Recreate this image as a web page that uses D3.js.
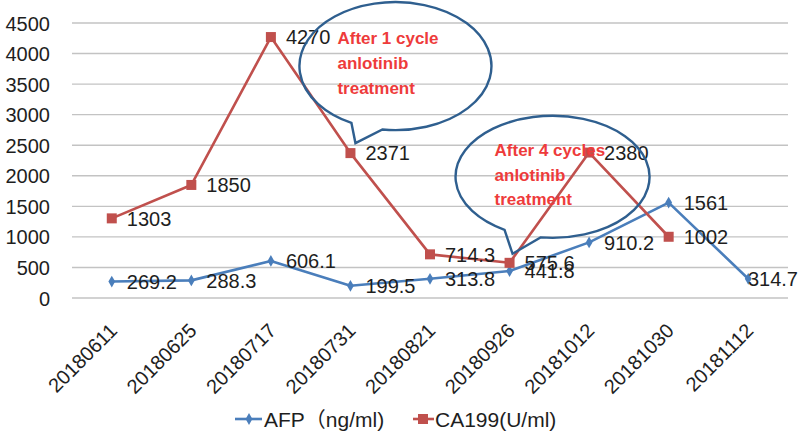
<!DOCTYPE html>
<html>
<head>
<meta charset="utf-8">
<script src="https://cdn.jsdelivr.net/npm/d3@7"></script>
<style>
  html, body { margin: 0; padding: 0; background: #fff; }
  svg { display: block; }
  text { font-family: "Liberation Sans", "Noto Sans CJK SC", sans-serif; }
</style>
</head>
<body>
<script>
const categories = ["20180611", "20180625", "20180717", "20180731", "20180821", "20180926", "20181012", "20181030", "20181112"];
const afpValues = [269.2, 288.3, 606.1, 199.5, 313.8, 441.8, 910.2, 1561, 314.7];
const ca199Values = [1303, 1850, 4270, 2371, 714.3, 575.6, 2380, 1002];
const yTickValues = [0, 500, 1000, 1500, 2000, 2500, 3000, 3500, 4000, 4500];
const seriesNames = ["AFP\uFF08ng/ml)", "CA199(U/ml)"];
const calloutTexts = [
  ["After 1 cycle", "anlotinib", "treatment"],
  ["After 4 cycles", "anlotinib", "treatment"]
];
const calloutAnchors = [3, 5]; // index of CA199 point each callout points to

const W = 800, H = 442;
const BLUE = "#4a7ebb", RED = "#c0504d", GRID = "#c3c3c3", INK = "#1e1e1e";

const svg = d3.select("body").append("svg").attr("width", W).attr("height", H);

const x = d3.scalePoint().domain(categories).range([72, 788]).padding(0.5);
const y = d3.scaleLinear().domain([0, 4500]).range([298, 23]);

// gridlines
svg.append("g").selectAll("line").data(yTickValues).join("line")
  .attr("x1", 72).attr("x2", 788)
  .attr("y1", d => y(d)).attr("y2", d => y(d))
  .attr("stroke", GRID).attr("stroke-width", 1.4);

// y axis labels
const yAxis = d3.axisLeft(y).tickValues(yTickValues).tickSize(0).tickPadding(0).tickFormat(d3.format("d"));
const yg = svg.append("g").attr("transform", "translate(50,0)").call(yAxis);
yg.select(".domain").remove();
yg.selectAll("text").attr("font-size", 20).attr("fill", INK)
  .attr("font-family", "Liberation Sans, sans-serif").attr("dy", "0.35em");

// x axis labels
const xAxis = d3.axisBottom(x).tickSize(0).tickPadding(0);
const xg = svg.append("g").attr("transform", "translate(0,298)").call(xAxis);
xg.select(".domain").remove();
xg.selectAll(".tick text")
  .attr("font-size", 20).attr("fill", INK)
  .attr("font-family", "Liberation Sans, sans-serif")
  .attr("text-anchor", "end").attr("y", 0).attr("dy", 0)
  .attr("transform", "translate(6,34) rotate(-45)");

// lines
const afpData = afpValues.map((v, i) => ({ c: categories[i], v }));
const caData = ca199Values.map((v, i) => ({ c: categories[i], v }));
const line = d3.line().x(d => x(d.c)).y(d => y(d.v));

svg.append("path").datum(afpData).attr("d", line)
  .attr("fill", "none").attr("stroke", BLUE).attr("stroke-width", 2.6).attr("stroke-linejoin", "round");
svg.append("path").datum(caData).attr("d", line)
  .attr("fill", "none").attr("stroke", RED).attr("stroke-width", 2.6).attr("stroke-linejoin", "round");

// markers
const diamond = d3.symbol().type(d3.symbolDiamond).size(40);
svg.append("g").selectAll("path").data(afpData).join("path")
  .attr("d", diamond)
  .attr("transform", d => `translate(${x(d.c)},${y(d.v)})`)
  .attr("fill", BLUE);
svg.append("g").selectAll("rect").data(caData).join("rect")
  .attr("x", d => x(d.c) - 5).attr("y", d => y(d.v) - 5)
  .attr("width", 10).attr("height", 10).attr("fill", RED);

// data labels
function addLabels(data) {
  svg.append("g").selectAll("text").data(data).join("text")
    .attr("x", d => x(d.c) + 15)
    .attr("y", d => y(d.v))
    .attr("dy", "0.36em")
    .attr("font-size", 20).attr("fill", INK)
    .attr("font-family", "Liberation Sans, sans-serif")
    .text(d => String(d.v))
    .each(function () {
      const bb = this.getBBox();
      if (bb.x + bb.width > W - 2) {
        d3.select(this).attr("x", W - 2).attr("text-anchor", "end");
      }
    });
}
addLabels(caData);
addLabels(afpData);

// callouts (speech bubbles)
const bubbleGeom = [
  { dx: 40, dy: -77, rx: 96, ry: 64, b1: -4, b2: 27, tx: -18, ty: [-99, -74, -49], tipdx: 5, tipdy: -10 },
  { dx: 40, dy: -77, rx: 97, ry: 61, b1: -8, b2: 28, tx: -18, ty: [-98, -73, -49], tipdx: 3, tipdy: -9 }
];
calloutTexts.forEach((lines, k) => {
  const g = bubbleGeom[k];
  const idx = calloutAnchors[k];
  const tipX = x(categories[idx]) + g.tipdx;
  const tipY = y(ca199Values[idx]) + g.tipdy;
  const cx = tipX + g.dx, cy = tipY + g.dy;
  const yOn = (px) => cy + g.ry * Math.sqrt(Math.max(0, 1 - Math.pow((px - cx) / g.rx, 2)));
  const b1x = tipX + g.b1, b2x = tipX + g.b2;
  const d = `M${b1x},${yOn(b1x)} L${tipX},${tipY} L${b2x},${yOn(b2x)} A${g.rx},${g.ry} 0 1 0 ${b1x},${yOn(b1x)} Z`;
  svg.append("path").attr("d", d)
    .attr("fill", "none").attr("stroke", "#2f5f8f").attr("stroke-width", 2.4).attr("stroke-linejoin", "miter");
  svg.append("g").selectAll("text").data(lines).join("text")
    .attr("x", tipX + g.tx)
    .attr("y", (t, i) => tipY + g.ty[i])
    .attr("font-size", 17).attr("font-weight", "bold").attr("fill", "#ee3b3b")
    .attr("font-family", "Liberation Sans, sans-serif")
    .text(t => t);
});

// legend
const lg = svg.append("g");
lg.append("line").attr("x1", 235).attr("x2", 262).attr("y1", 419).attr("y2", 419)
  .attr("stroke", BLUE).attr("stroke-width", 2.6);
lg.append("path").attr("d", diamond).attr("transform", "translate(249,419)").attr("fill", BLUE);
lg.append("text").attr("x", 264).attr("y", 419).attr("dy", "0.36em")
  .attr("font-size", 21).attr("fill", INK).text(seriesNames[0]);
lg.append("line").attr("x1", 413).attr("x2", 434).attr("y1", 419).attr("y2", 419)
  .attr("stroke", RED).attr("stroke-width", 2.6);
lg.append("rect").attr("x", 418).attr("y", 414).attr("width", 10).attr("height", 10).attr("fill", RED);
lg.append("text").attr("x", 435).attr("y", 419).attr("dy", "0.36em")
  .attr("font-size", 21).attr("fill", INK).text(seriesNames[1]);
</script>
</body>
</html>
